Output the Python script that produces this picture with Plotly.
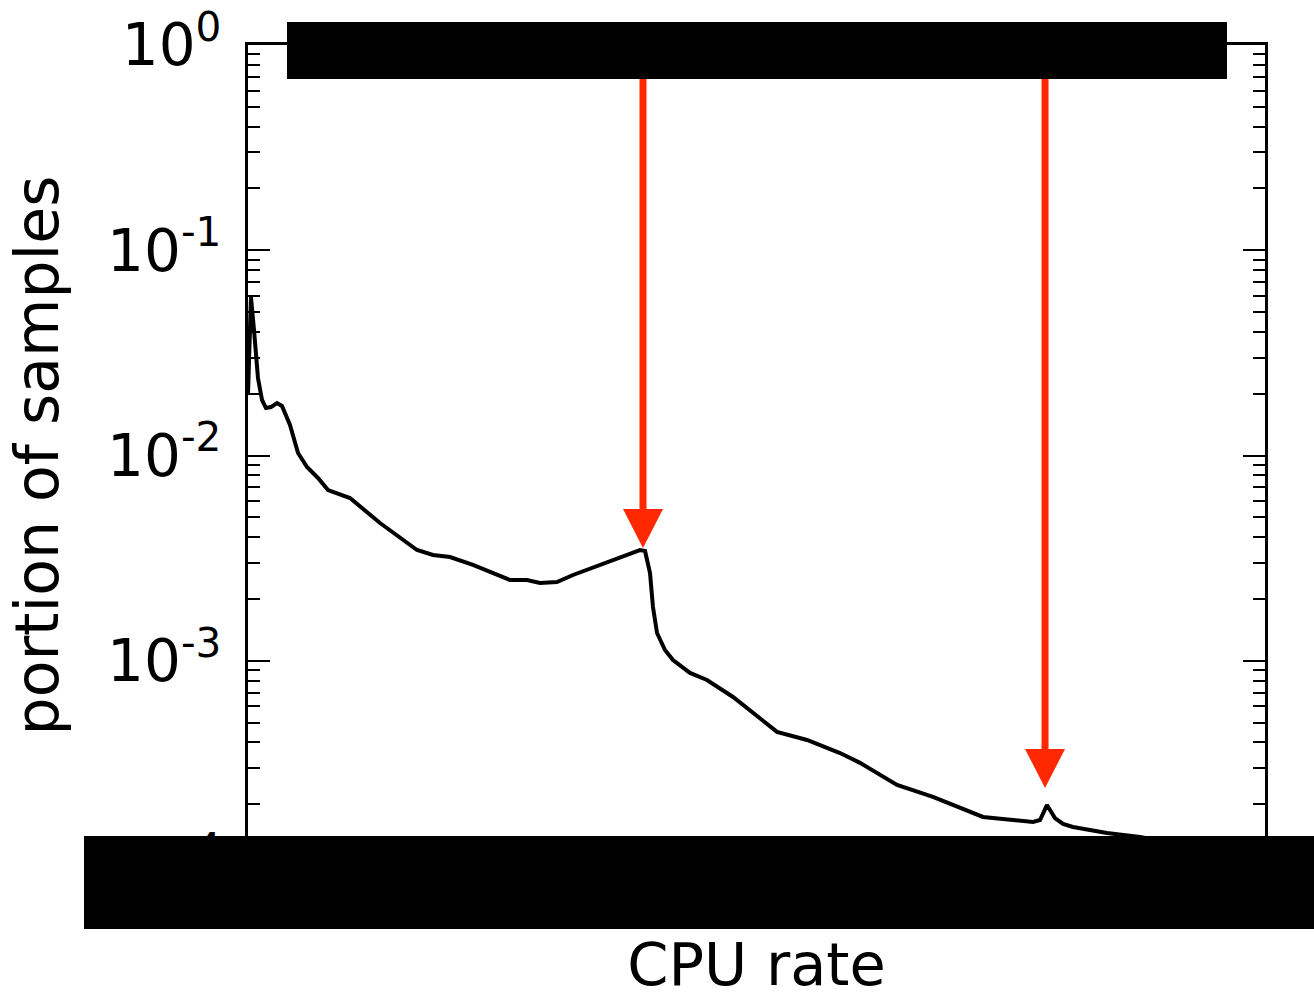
import plotly.graph_objects as go

# CPU rate (normalised position along the x axis; real tick labels are redacted)
cpu_rate = [0.000, 0.0029, 0.0059, 0.0098, 0.0138, 0.0177, 0.0226, 0.0285, 0.0334,
            0.0413, 0.0492, 0.0580, 0.0688, 0.0787, 0.1003, 0.1298, 0.1662, 0.1819,
            0.1986, 0.2212, 0.2576, 0.2743, 0.2871, 0.3038, 0.3196, 0.3530, 0.3854,
            0.3904, 0.3953, 0.3982, 0.4022, 0.4100, 0.4179, 0.4346, 0.4513, 0.4769,
            0.5202, 0.5497, 0.5821, 0.6018, 0.6382, 0.6735, 0.7227, 0.7719, 0.7788,
            0.7856, 0.7935, 0.8014, 0.8112, 0.8446, 0.8771, 0.9361, 1.000]
portion = [0.01972, 0.05920, 0.04088, 0.02385, 0.01864, 0.01703, 0.01722, 0.01802, 0.01743,
           0.01408, 0.01028, 0.008790, 0.007772, 0.006790, 0.006207, 0.004689, 0.003463, 0.003274,
           0.003202, 0.002928, 0.002474, 0.002474, 0.002392, 0.002419, 0.002617, 0.003028, 0.003463,
           0.003424, 0.002676, 0.001827, 0.001365, 0.001128, 0.001008, 0.000872, 0.000806, 0.000666,
           0.000450, 0.000411, 0.000355, 0.000318, 0.000248, 0.000217, 0.0001733, 0.0001639, 0.0001675,
           0.0001982, 0.0001713, 0.0001602, 0.0001549, 0.0001448, 0.0001384, 0.0001224, 0.0001094]

# arrow tips (peaks that are highlighted)
arrow_x = [0.3884, 0.7837]
arrow_y = [0.003541, 0.000240]

y_tickvals = [1e-4, 1e-3, 1e-2, 1e-1, 1e0]
y_ticktext = ["10<sup>-4</sup>", "10<sup>-3</sup>", "10<sup>-2</sup>", "10<sup>-1</sup>", "10<sup>0</sup>"]
minor_vals = [m * 10.0 ** e for e in range(-4, 0) for m in range(2, 10)]

RED = "#ff2800"
FONT = "DejaVu Sans"

fig = go.Figure()
fig.add_trace(go.Scatter(x=cpu_rate, y=portion, mode="lines",
                         line=dict(color="black", width=4), showlegend=False))

shapes = []
for ax_, ay_ in zip(arrow_x, arrow_y):
    shapes.append(dict(type="line", xref="x", yref="y", xsizemode="pixel", ysizemode="pixel",
                       xanchor=ax_, yanchor=ay_, x0=0, x1=0, y0=36, y1=900,
                       line=dict(color=RED, width=7), layer="above"))
    shapes.append(dict(type="path", xref="x", yref="y", xsizemode="pixel", ysizemode="pixel",
                       xanchor=ax_, yanchor=ay_, path="M-20,39 L20,39 L0,0 Z",
                       fillcolor=RED, line=dict(width=0), layer="above"))

# redaction boxes (positions in screen pixels converted to paper coordinates)
W, H, L, B = 1017.0, 821.0, 248.0, 866.0
def px(xp):
    return (xp - L) / W
def py(yp):
    return (B - yp) / H
shapes.append(dict(type="rect", xref="paper", yref="paper", x0=px(287), x1=px(1227),
                   y0=py(79), y1=py(22), fillcolor="black", line=dict(width=0), layer="above"))
shapes.append(dict(type="rect", xref="paper", yref="paper", x0=px(84), x1=px(1320),
                   y0=py(929), y1=py(836), fillcolor="black", line=dict(width=0), layer="above"))

fig.update_layout(
    template="none",
    width=1314, height=999,
    margin=dict(l=248, r=49, t=45, b=133, autoexpand=False),
    paper_bgcolor="white", plot_bgcolor="white",
    font=dict(family=FONT, size=58, color="black"),
    shapes=shapes,
    xaxis=dict(range=[0, 1], showline=True, linecolor="black", linewidth=3, mirror=True,
               showgrid=False, zeroline=False, ticks="", showticklabels=False,
               automargin=False,
               title=dict(text="CPU rate", standoff=85, font=dict(size=59))),
    yaxis=dict(type="log", range=[-4.0001, 0.0001], showline=True, linecolor="black", linewidth=3,
               mirror="ticks", showgrid=False, zeroline=False, automargin=False,
               tickmode="array", tickvals=y_tickvals, ticktext=y_ticktext,
               ticks="inside", ticklen=22, tickwidth=2, tickcolor="black",
               ticklabelstandoff=12,
               minor=dict(tickmode="array", tickvals=minor_vals, ticks="inside",
                          ticklen=12, tickwidth=2, tickcolor="black", showgrid=False),
               title=dict(text="portion of samples", standoff=30, font=dict(size=60))),
)

fig.write_html("out.html", config={"displayModeBar": False},
               post_script="document.body.style.margin='0';document.body.style.overflow='hidden';")
